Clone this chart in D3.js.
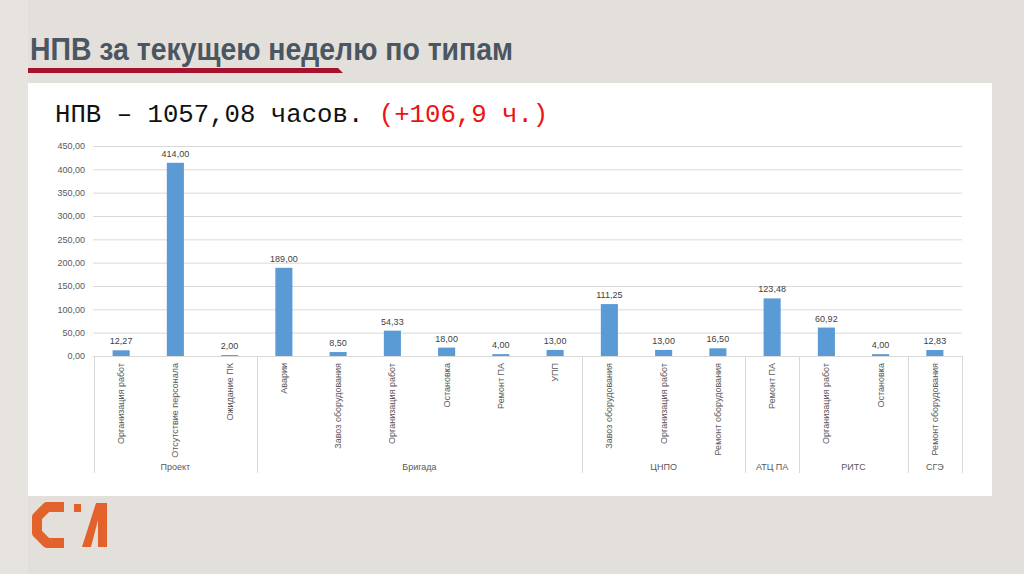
<!DOCTYPE html>
<html><head><meta charset="utf-8">
<script src="https://cdn.jsdelivr.net/npm/d3@7"></script>
<style>html,body{margin:0;padding:0;background:#e3dfda;}svg{display:block;}</style>
</head><body>
<svg id="c" width="1024" height="574"></svg>
<script>
const titleText = "НПВ за текущею неделю по типам";
const subtitleMain = "НПВ – 1057,08 часов. ";
const subtitleRed = "(+106,9 ч.)";
const categories = ["Организация работ","Отсутствие персонала","Ожидание ПК","Аварии","Завоз оборудования","Организация работ","Остановка","Ремонт ПА","УПП","Завоз оборудования","Организация работ","Ремонт оборудования","Ремонт ПА","Организация работ","Остановка","Ремонт оборудования"];
const groupNames = ["Проект","Бригада","ЦНПО","АТЦ ПА","РИТС","СГЭ"];
const groupSizes = [3,6,3,1,2,1];
const values = [12.27,414.00,2.00,189.00,8.50,54.33,18.00,4.00,13.00,111.25,13.00,16.50,123.48,60.92,4.00,12.83];
const yTicks = [0,50,100,150,200,250,300,350,400,450];

(function(){
const loc = d3.formatLocale({decimal:",",thousands:" ",grouping:[3],currency:["",""]});
const fmt = loc.format(".2f");

const svg = d3.select("#c");
svg.append("rect").attr("x",0).attr("y",0).attr("width",1024).attr("height",574).attr("fill","#e3dfda");
svg.append("rect").attr("x",0).attr("y",0).attr("width",28).attr("height",574).attr("fill","#e7e4df");
svg.append("text").attr("x",30).attr("y",60).attr("font-family","Liberation Sans Narrow, Arial Narrow, Liberation Sans, sans-serif")
  .attr("font-weight","bold").attr("font-size",32).attr("fill","#4a5661")
  .attr("textLength",483).attr("lengthAdjust","spacingAndGlyphs").text(titleText);
svg.append("path").attr("d","M28 68 L338 68 L343 73 L28 73 Z").attr("fill","#a6112e");
svg.append("rect").attr("x",28).attr("y",83).attr("width",964).attr("height",413).attr("fill","#ffffff");
const st = svg.append("text").attr("x",55).attr("y",122).attr("font-family","Liberation Mono, Courier New, monospace")
  .attr("font-size",25.7).attr("fill","#111").attr("xml:space","preserve");
st.append("tspan").text(subtitleMain);
st.append("tspan").attr("fill","#ee1111").text(subtitleRed);

const pl = 94, pr = 962, pt = 146, pb = 356;
const x = d3.scaleBand().domain(d3.range(categories.length)).range([pl,pr]).paddingInner(0.685).paddingOuter(0.3425);
const y = d3.scaleLinear().domain([0,450]).range([pb,pt]);

const g = svg.append("g");
g.selectAll("line.grid").data(yTicks).join("line").attr("class","grid")
  .attr("x1",pl-1).attr("x2",pr).attr("y1",d=>y(d)+0.5).attr("y2",d=>y(d)+0.5)
  .attr("stroke","#d9d9d9").attr("stroke-width",1);
const yAxis = d3.axisLeft(y).tickValues(yTicks).tickFormat(fmt).tickSize(0).tickPadding(8);
const ya = g.append("g").attr("transform",`translate(${pl-1},0)`).call(yAxis);
ya.select(".domain").remove();
ya.selectAll("text").attr("font-family","Liberation Sans, Arial, sans-serif").attr("font-size",9).attr("fill","#595959");

g.selectAll("rect.bar").data(values).join("rect").attr("class","bar")
  .attr("x",(d,i)=>x(i)).attr("width",x.bandwidth())
  .attr("y",d=>y(d)).attr("height",d=>Math.max(0,pb-y(d))).attr("fill","#5b9bd5");
g.selectAll("text.val").data(values).join("text").attr("class","val")
  .attr("x",(d,i)=>x(i)+x.bandwidth()/2).attr("y",d=>y(d)-6)
  .attr("text-anchor","middle").attr("font-family","Liberation Sans, Arial, sans-serif").attr("font-size",9).attr("fill","#404040")
  .text(d=>fmt(d));

const xAxis = d3.axisBottom(x).tickFormat(i=>categories[i]).tickSize(0).tickPadding(0);
const xa = g.append("g").attr("transform",`translate(0,${pb})`).call(xAxis);
xa.select(".domain").attr("stroke","#d9d9d9");
xa.selectAll(".tick text").attr("transform","rotate(-90)").attr("text-anchor","end")
  .attr("x",-7).attr("y",0).attr("dy","0.32em")
  .attr("font-family","Liberation Sans, Arial, sans-serif").attr("font-size",9).attr("fill","#595959");

let idx = 0;
const bounds = [pl];
groupSizes.forEach(s=>{ idx += s; bounds.push(pl + (pr-pl)*idx/categories.length); });
g.selectAll("line.sep").data(bounds).join("line").attr("class","sep")
  .attr("x1",d=>Math.round(d)+0.5).attr("x2",d=>Math.round(d)+0.5).attr("y1",pb).attr("y2",473)
  .attr("stroke","#d9d9d9").attr("stroke-width",1);
g.selectAll("text.grp").data(groupNames).join("text").attr("class","grp")
  .attr("x",(d,i)=>(bounds[i]+bounds[i+1])/2).attr("y",470)
  .attr("text-anchor","middle").attr("font-family","Liberation Sans, Arial, sans-serif").attr("font-size",9).attr("fill","#595959")
  .text(d=>d);

const lg = svg.append("g").attr("fill","#e3612b");
lg.append("path").attr("d","M64 507 L47 507 L37 517 L37 533 L47 543 L64 543")
  .attr("fill","none").attr("stroke","#e3612b").attr("stroke-width",10).attr("stroke-linejoin","round");
lg.append("rect").attr("x",74).attr("y",504).attr("width",7).attr("height",8);
lg.append("path").attr("d","M82 547 L91 547 L98 520 L98 547 L107 547 L107 503 L96 503 Z");
})();
</script>
</body></html>
